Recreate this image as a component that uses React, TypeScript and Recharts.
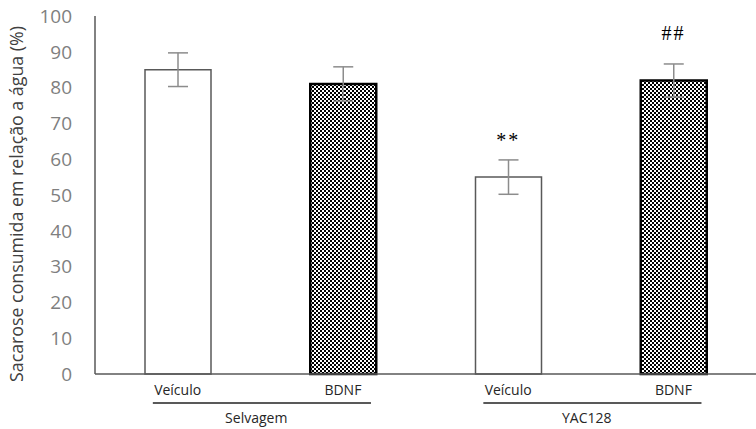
import {
  Bar,
  Cell,
  ComposedChart,
  ErrorBar,
  Scatter,
  XAxis,
  YAxis,
} from "recharts";

const ids = ["sel-veh", "sel-bdnf", "yac-veh", "yac-bdnf"];
const treatments = ["Veículo", "BDNF", "Veículo", "BDNF"];
const groups = ["Selvagem", "Selvagem", "YAC128", "YAC128"];
const means = [85, 81, 55, 82];
const errors = [4.7, 4.8, 4.8, 4.6];
const marks = ["", "", "**", "##"];
const markAt = [null, null, 65.5, 95.3];
const yTicks = [0, 10, 20, 30, 40, 50, 60, 70, 80, 90, 100];

const data = ids.map((id, i) => ({
  id,
  treatment: treatments[i],
  group: groups[i],
  mean: means[i],
  err: errors[i],
  mark: marks[i],
  markY: markAt[i],
}));

const W = 756;
const H = 429;
const AXIS_W = 95;
const BAND = (W - AXIS_W) / ids.length;
const FONT = "'Open Sans', sans-serif";

function XTick(props: any) {
  const { x, y, index } = props;
  const d = data[index];
  const firstOfGroup = index === 0 || data[index - 1].group !== d.group;
  return (
    <g>
      <text x={x} y={y + 21} textAnchor="middle" fontFamily={FONT} fontSize={14} fill="#262626">
        {d.treatment}
      </text>
      {firstOfGroup && (
        <g>
          <line
            x1={x - 0.15 * BAND}
            x2={x + 1.17 * BAND}
            y1={y + 29}
            y2={y + 29}
            stroke="#595959"
            strokeWidth={2}
          />
          <text x={x + 0.5 * BAND - 4} y={y + 49} textAnchor="middle" fontFamily={FONT} fontSize={14} fill="#262626">
            {d.group}
          </text>
        </g>
      )}
    </g>
  );
}

function MarkShape(props: any) {
  const { cx, cy, payload } = props;
  if (!payload || !payload.mark || !isFinite(cy)) return <g />;
  return (
    <text x={cx} y={cy} textAnchor="middle" dominantBaseline="central" fontFamily="'Liberation Serif', serif" fontSize={20} fill="#000" letterSpacing={2}>
      {payload.mark}
    </text>
  );
}

function YLabel() {
  const cx = 16;
  const cy = 204;
  return (
    <text
      x={cx}
      y={cy}
      transform={`rotate(-90, ${cx}, ${cy})`}
      textAnchor="middle"
      dominantBaseline="central"
      fontFamily={FONT}
      fontSize={17.8}
      fill="#404040"
    >
      Sacarose consumida em relação a água (%)
    </text>
  );
}

export default function App() {
  return (
    <div style={{ position: "absolute", left: 0, top: 0, width: W, height: H, background: "#fff" }}>
      <ComposedChart width={W} height={H} data={data} margin={{ top: 16, right: 0, bottom: 0, left: 0 }}>
        <defs>
          <pattern id="checker" width={4} height={4} patternUnits="userSpaceOnUse">
            <rect width={4} height={4} fill="#000" />
            <rect x={0} y={0} width={2} height={2} fill="#fff" />
            <rect x={2} y={2} width={2} height={2} fill="#fff" />
          </pattern>
        </defs>
        <XAxis
          dataKey="id"
          height={55}
          tickLine={false}
          tickSize={0}
          tickMargin={0}
          interval={0}
          axisLine={{ stroke: "#595959", strokeWidth: 1.5 }}
          tick={<XTick />}
        />
        <YAxis
          width={AXIS_W}
          domain={[0, 100]}
          ticks={yTicks}
          interval={0}
          tickLine={false}
          tickMargin={17}
          axisLine={{ stroke: "#595959", strokeWidth: 1.5 }}
          tick={{ fontFamily: FONT, fontSize: 19, fill: "#7f7f7f" }}
          label={<YLabel />}
        />
        <Bar dataKey="mean" barSize={66} isAnimationActive={false}>
          {data.map((d, i) => (
            <Cell
              key={d.id}
              fill={d.treatment === "BDNF" ? "url(#checker)" : "#fff"}
              stroke={d.treatment === "BDNF" ? "#000" : "#595959"}
              strokeWidth={d.treatment === "BDNF" ? 2.5 : 1.5}
            />
          ))}
          <ErrorBar dataKey="err" width={10} stroke="#8c8c8c" strokeWidth={1.5} />
        </Bar>
        <Scatter dataKey="markY" shape={<MarkShape />} isAnimationActive={false} />
      </ComposedChart>
    </div>
  );
}
